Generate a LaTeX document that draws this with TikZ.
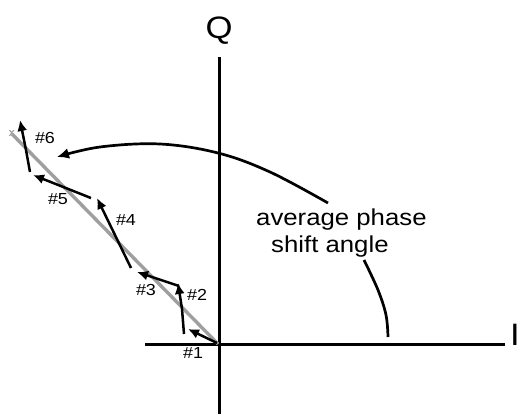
\documentclass[tikz,border=0pt]{standalone}
\usepackage{fontspec}
\usetikzlibrary{arrows.meta}
\newfontfamily\labfont[FakeStretch=1.12]{Liberation Sans}
\begin{document}
\begin{tikzpicture}[x=1pt,y=-1pt,
  axis/.style={line width=3pt,black},
  avg/.style={line width=3.4pt,gray!75},
  vec/.style={line width=2.5pt,black,-{Latex[length=11pt,width=10pt]}},
  arcline/.style={line width=2.7pt,black},
  num/.style={font=\labfont\fontsize{16}{18}\selectfont,inner sep=0pt},
  axlab/.style={font=\labfont\fontsize{31}{34}\selectfont,inner sep=0pt},
  txt/.style={font=\labfont\fontsize{23}{26}\selectfont,inner sep=0pt,anchor=base west}]
\useasboundingbox (0,0) rectangle (521,414);
% axes
\coordinate (O) at (218,344);
\coordinate (xl) at (145,344);
\coordinate (xr) at (505,344);
\coordinate (yt) at (219,57);
\coordinate (yb) at (219,416);
\draw[axis] (xl) -- (xr);
\draw[axis] (yt) -- (yb);
\node[axlab,anchor=base] (Q) at (219,39) {Q};
\node[axlab,anchor=base west] (I) at (510,345) {I};
% average line
\coordinate (X) at (12,134);
\draw[avg] (O) -- (X);
\node[text=gray!75,font=\sffamily\bfseries\fontsize{13}{13}\selectfont,inner sep=0pt] (xm) at (12,134) {x};
% vectors
\coordinate (c0) at (217,343);
\coordinate (c1) at (188,329);
\coordinate (c1b) at (184,334);
\coordinate (m2) at (182,309);
\coordinate (c2) at (178,283);
\coordinate (c2b) at (179,286);
\coordinate (c3) at (137,272);
\coordinate (c3b) at (131,268);
\coordinate (c4) at (97,198);
\coordinate (c4b) at (91,198);
\coordinate (c5) at (33,175);
\coordinate (c5b) at (30,172);
\coordinate (m6) at (26,150);
\coordinate (c6) at (20,120);
\draw[vec] (c0) -- (c1);
\draw[vec] (c1b) -- (m2) -- (c2);
\draw[vec] (c2b) -- (c3);
\draw[vec] (c3b) -- (c4);
\draw[vec] (c4b) -- (c5);
\draw[vec] (c5b) -- (m6) -- (c6);
\node[num] (n1) at (193,353) {\#1};
\node[num] (n2) at (197,295) {\#2};
\node[num] (n3) at (146,290) {\#3};
\node[num] (n4) at (126,220) {\#4};
\node[num] (n5) at (58,199) {\#5};
\node[num] (n6) at (45,138) {\#6};
% angle arc
\draw[arcline,-{Latex[length=12pt,width=11pt]}] plot[smooth,tension=0.6] coordinates {(328,203) (270,172) (218,153) (160,144) (100,147) (57,157)};
\draw[arcline] plot[smooth,tension=0.6] coordinates {(364,260) (378,290) (386,315) (388,337)};
\node[txt] (t1) at (256,225) {average phase};
\node[txt] (t2) at (271,252) {shift angle};
\end{tikzpicture}
\end{document}
